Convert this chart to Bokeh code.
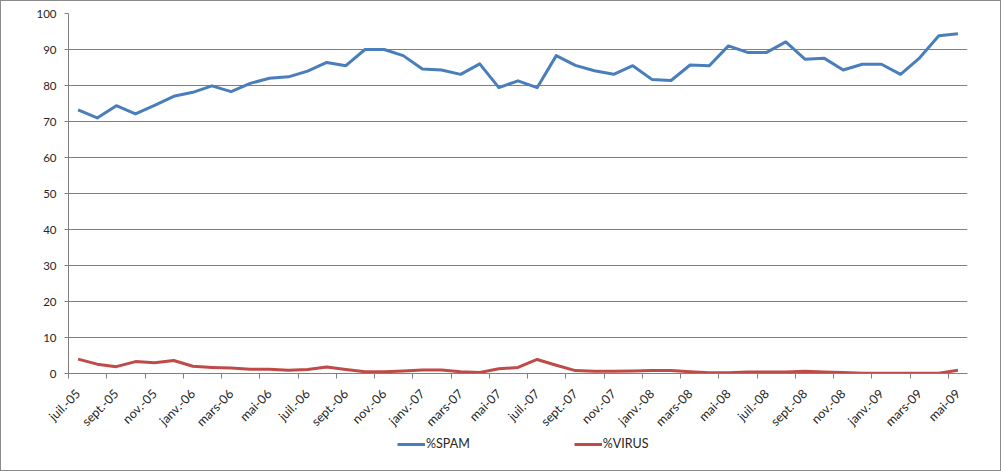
from math import pi
from bokeh.plotting import figure
from bokeh.layouts import column
from bokeh.models import (Range1d, FixedTicker, Legend, LegendItem)
from bokeh.embed import file_html
from bokeh.resources import INLINE

months = ["juil.-05", "août-05", "sept.-05", "oct.-05", "nov.-05", "déc.-05",
          "janv.-06", "févr.-06", "mars-06", "avr.-06", "mai-06", "juin-06",
          "juil.-06", "août-06", "sept.-06", "oct.-06", "nov.-06", "déc.-06",
          "janv.-07", "févr.-07", "mars-07", "avr.-07", "mai-07", "juin-07",
          "juil.-07", "août-07", "sept.-07", "oct.-07", "nov.-07", "déc.-07",
          "janv.-08", "févr.-08", "mars-08", "avr.-08", "mai-08", "juin-08",
          "juil.-08", "août-08", "sept.-08", "oct.-08", "nov.-08", "déc.-08",
          "janv.-09", "févr.-09", "mars-09", "avr.-09", "mai-09"]

spam = [73.2, 71.0, 74.4, 72.1, 74.5, 77.0, 78.1, 79.9, 78.3, 80.6, 82.0, 82.4,
        84.0, 86.4, 85.5, 90.0, 90.0, 88.3, 84.6, 84.3, 83.1, 86.0, 79.4, 81.3,
        79.4, 88.3, 85.6, 84.1, 83.1, 85.5, 81.7, 81.4, 85.7, 85.5, 91.0, 89.2,
        89.2, 92.1, 87.3, 87.6, 84.3, 85.9, 85.9, 83.1, 87.7, 93.8, 94.4]

virus = [4.0, 2.6, 1.9, 3.3, 3.0, 3.6, 2.0, 1.7, 1.5, 1.2, 1.2, 0.9,
         1.1, 1.8, 1.1, 0.5, 0.5, 0.7, 1.0, 1.0, 0.5, 0.3, 1.3, 1.7,
         3.9, 2.3, 0.8, 0.6, 0.6, 0.7, 0.8, 0.8, 0.5, 0.2, 0.2, 0.4,
         0.4, 0.4, 0.6, 0.4, 0.3, 0.1, 0.1, 0.1, 0.1, 0.1, 0.9]

series_names = ["%SPAM", "%VIRUS"]
series_colors = ["#4A7EBB", "#BE4B48"]

y_ticks = list(range(0, 101, 10))

n = len(months)
xs = [i + 0.5 for i in range(n)]

FONT = "Lato"
GRAY = "#808080"
TXT = "#262626"

p = figure(width=1001, height=437, output_backend="svg", toolbar_location=None,
           x_range=Range1d(0, n), y_range=Range1d(0, 100),
           min_border_left=68, min_border_right=34, min_border_top=13,
           min_border_bottom=63, background_fill_color="white",
           border_fill_alpha=0.0, outline_line_color=None)

p.line(xs, spam, line_color=series_colors[0], line_width=3, line_join="round")
p.line(xs, virus, line_color=series_colors[1], line_width=3, line_join="round")

# x axis
xa = p.xaxis[0]
label_pos = [i + 0.5 for i in range(0, n, 2)]
xa.ticker = FixedTicker(ticks=label_pos, minor_ticks=list(range(0, n, 2)))
xa.major_label_overrides = {i + 0.5: months[i] for i in range(0, n, 2)}
xa.major_label_orientation = pi / 4
xa.major_tick_line_color = None
xa.minor_tick_line_color = GRAY
xa.minor_tick_out = 5
xa.minor_tick_in = 0
xa.axis_line_color = GRAY
xa.major_label_text_font = FONT
xa.major_label_text_font_size = "12.5px"
xa.major_label_text_color = TXT
xa.major_label_standoff = 12

ya = p.yaxis[0]
ya.ticker = FixedTicker(ticks=y_ticks)
ya.axis_line_color = GRAY
ya.major_tick_line_color = GRAY
ya.major_tick_out = 4
ya.major_tick_in = 0
ya.minor_tick_line_color = None
ya.major_label_text_font = FONT
ya.major_label_text_font_size = "11.5px"
ya.major_label_text_color = TXT
ya.major_label_standoff = 8

p.xgrid.grid_line_color = None
p.ygrid.grid_line_color = GRAY
p.ygrid.grid_line_width = 1

# legend strip (series drawn off-range so only the legend is visible)
p2 = figure(width=1001, height=34, output_backend="svg", toolbar_location=None,
            x_range=Range1d(-2, -1), y_range=Range1d(-2, -1),
            min_border=0, x_axis_type=None, y_axis_type=None,
            background_fill_alpha=0.0, border_fill_alpha=0.0,
            outline_line_color=None)
p2.xgrid.visible = False
p2.ygrid.visible = False
lr = [p2.line(xs, vals, line_color=c, line_width=3)
      for vals, c in zip([spam, virus], series_colors)]
legend = Legend(items=[LegendItem(label=nm, renderers=[r])
                       for nm, r in zip(series_names, lr)],
                orientation="horizontal", location=(329, 20),
                padding=0, margin=0, spacing=104, glyph_width=28,
                glyph_height=14, label_standoff=1,
                label_text_font=FONT, label_text_font_size="12.5px",
                label_text_color=TXT, border_line_color=None,
                background_fill_alpha=0)
p2.add_layout(legend, "center")

layout = column(p, p2, spacing=0)
layout.styles = {"box-shadow": "inset 0 0 0 1px #8a8a8a", "background": "white"}

open("out.html", "w").write(file_html(layout, INLINE))
